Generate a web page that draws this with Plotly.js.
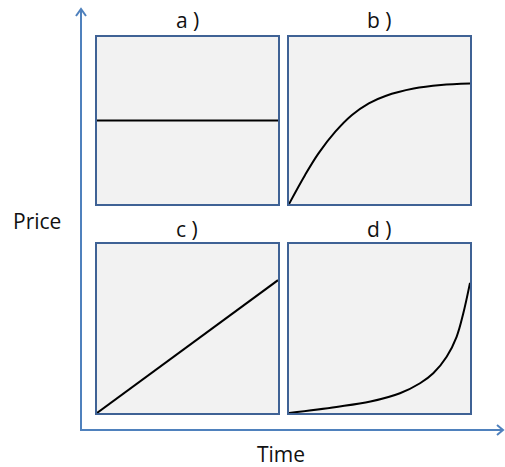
<!DOCTYPE html>
<html>
<head>
<meta charset="utf-8">
<script src="https://cdn.plot.ly/plotly-3.0.1.min.js"></script>
<style>
  html, body { margin: 0; padding: 0; background: #fff; }
  #plot { width: 505px; height: 467px; }
</style>
</head>
<body>
<div id="plot"></div>
<script>
/* Panel data (normalised time / price, 0..1) */
var panelLabels = ["a )", "b )", "c )", "d )"];

var timeA = [0, 1];
var priceA = [0.5, 0.5];

var timeB = [0, 0.089, 0.163, 0.256, 0.348, 0.441, 0.533, 0.689, 0.84, 1.0];
var priceB = [0, 0.174, 0.303, 0.433, 0.533, 0.603, 0.647, 0.691, 0.712, 0.721];

var timeC = [0, 1];
var priceC = [0, 0.786];

var timeD = [0, 0.262, 0.45, 0.613, 0.724, 0.797, 0.871, 0.926, 0.963, 1.0];
var priceD = [0, 0.036, 0.068, 0.117, 0.176, 0.235, 0.333, 0.451, 0.590, 0.77];

var W = 505, H = 467;
function px(x) { return x / W; }
function py(y) { return 1 - y / H; }

var lineStyle = {color: "black", width: 2, shape: "spline", smoothing: 1};

var data = [
  {x: timeA, y: priceA, xaxis: "x", yaxis: "y", mode: "lines", line: lineStyle},
  {x: timeB, y: priceB, xaxis: "x2", yaxis: "y2", mode: "lines", line: lineStyle},
  {x: timeC, y: priceC, xaxis: "x3", yaxis: "y3", mode: "lines", line: lineStyle},
  {x: timeD, y: priceD, xaxis: "x4", yaxis: "y4", mode: "lines", line: lineStyle}
];

var leftDom = [px(97), px(278)];
var rightDom = [px(289), px(470)];
var topDom = [py(204), py(37)];
var botDom = [py(413), py(244)];

function ax(domain, anchor) {
  return {
    domain: domain, anchor: anchor, range: [0, 1],
    showgrid: false, zeroline: false, showticklabels: false, ticks: "",
    showline: true, mirror: true, linecolor: "#3F6295", linewidth: 2,
    fixedrange: true
  };
}

var blue = "#4F81BD";
var shapes = [];
["x", "x2", "x3", "x4"].forEach(function (xa, i) {
  var ya = "y" + (i === 0 ? "" : i + 1);
  shapes.push({
    type: "rect", xref: xa + " domain", yref: ya + " domain",
    x0: 0, x1: 1, y0: 0, y1: 1,
    fillcolor: "#F2F2F2", line: {width: 0}, layer: "below"
  });
});
// axis arrows
shapes.push({type: "path", xref: "paper", yref: "paper",
  path: "M" + px(81) + "," + py(430) + " L" + px(81) + "," + py(9) +
        " M" + px(76) + "," + py(16) + " L" + px(81) + "," + py(9) + " L" + px(86) + "," + py(16),
  line: {color: blue, width: 2}});
shapes.push({type: "path", xref: "paper", yref: "paper",
  path: "M" + px(80) + "," + py(430) + " L" + px(503) + "," + py(430) +
        " M" + px(497) + "," + py(425) + " L" + px(503) + "," + py(430) + " L" + px(497) + "," + py(435),
  line: {color: blue, width: 2}});

var font = {family: "Open Sans, sans-serif", size: 21, color: "#111"};
var titlePos = [[187, 20], [379, 20], [187, 229], [379, 229]];
var annotations = panelLabels.map(function (t, i) {
  return {text: t, x: px(titlePos[i][0]), y: py(titlePos[i][1]), xref: "paper", yref: "paper",
          showarrow: false, font: font, xanchor: "center", yanchor: "middle"};
});
annotations.push({text: "Price", x: px(37), y: py(221), xref: "paper", yref: "paper",
  showarrow: false, font: font, xanchor: "center", yanchor: "middle"});
annotations.push({text: "Time", x: px(281), y: py(454), xref: "paper", yref: "paper",
  showarrow: false, font: font, xanchor: "center", yanchor: "middle"});

var layout = {
  width: W, height: H,
  margin: {l: 0, r: 0, t: 0, b: 0},
  paper_bgcolor: "white", plot_bgcolor: "rgba(0,0,0,0)",
  showlegend: false,
  xaxis: ax(leftDom, "y"), yaxis: ax(topDom, "x"),
  xaxis2: ax(rightDom, "y2"), yaxis2: ax(topDom, "x2"),
  xaxis3: ax(leftDom, "y3"), yaxis3: ax(botDom, "x3"),
  xaxis4: ax(rightDom, "y4"), yaxis4: ax(botDom, "x4"),
  shapes: shapes,
  annotations: annotations
};

Plotly.newPlot("plot", data, layout, {staticPlot: true});
</script>
</body>
</html>
